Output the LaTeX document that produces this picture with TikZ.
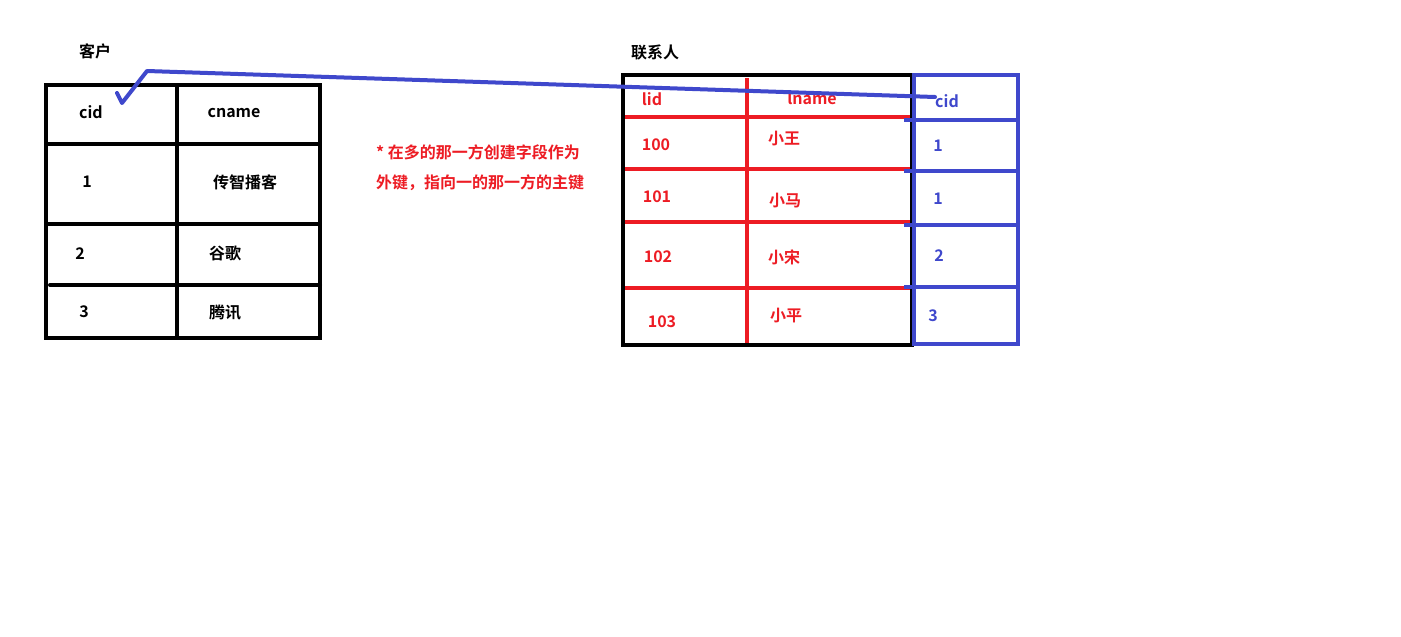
\documentclass[tikz,border=0pt]{standalone}
\usepackage{fontspec}
\setmainfont{Noto Sans CJK SC}[BoldFont={Noto Sans CJK SC Bold}]
\definecolor{pred}{HTML}{ED1C24}
\definecolor{pblue}{HTML}{3F48CC}
\begin{document}
\begin{tikzpicture}[x=1pt,y=-1pt,
  blk/.style={line width=4pt,black},
  redl/.style={line width=3.5pt,pred},
  bluel/.style={line width=4pt,pblue},
  txt/.style={font=\fontsize{16}{19}\selectfont\bfseries,inner sep=0pt},
  rtxt/.style={txt,text=pred},
  btxt/.style={txt,text=pblue},
  note/.style={font=\fontsize{16}{19}\selectfont\bfseries,text=pred,inner sep=0pt,anchor=west}]
\useasboundingbox[fill=white] (0,0) rectangle (1401,637);
% left table
\draw[blk] (46,85) rectangle (320,338);
\draw[blk] (177,85) -- (177,338);
\draw[blk] (46,144) -- (320,144);
\draw[blk] (46,224) -- (320,224);
\draw[blk,line cap=round] (50,285) -- (320,285);
\node[txt] (t1) at (95,51) {客户};
\node[txt] (c1) at (91,112) {cid};
\node[txt] (c2) at (234,113) {cname};
\node[txt] (r11) at (87,182) {1};
\node[txt] (r12) at (245,182) {传智播客};
\node[txt] (r21) at (80,254) {2};
\node[txt] (r22) at (225,253) {谷歌};
\node[txt] (r31) at (84,312) {3};
\node[txt] (r32) at (225,313) {腾讯};
% note
\node[note] (n1) at (376,152) {* 在多的那一方创建字段作为};
\node[note] (n2) at (376,183) {外键，指向一的那一方的主键};
% right table
\node[txt] (t2) at (655,52) {联系人};
\draw[redl] (747,78) -- (747,345);
\foreach \y in {117,169,222,288} \draw[redl] (624,\y) -- (910,\y);
\draw[blk] (623,75) rectangle (912,345);
\draw[bluel] (914,75) rectangle (1018,344);
\foreach \y in {120,171,225,287} \draw[bluel] (904,\y) -- (1018,\y);
\node[rtxt] (h1) at (652,99) {lid};
\node[rtxt] (h2) at (812,98) {lname};
\node[btxt] (h3) at (947,101) {cid};
\node[rtxt] (a1) at (656,145) {100};
\node[rtxt] (b1) at (784,139) {小王};
\node[btxt] (d1) at (938,146) {1};
\node[rtxt] (a2) at (657,197) {101};
\node[rtxt] (b2) at (785,201) {小马};
\node[btxt] (d2) at (938,199) {1};
\node[rtxt] (a3) at (658,257) {102};
\node[rtxt] (b3) at (784,257) {小宋};
\node[btxt] (d3) at (939,256) {2};
\node[rtxt] (a4) at (662,322) {103};
\node[rtxt] (b4) at (786,316) {小平};
\node[btxt] (d4) at (933,316) {3};
% connector
\coordinate (fk) at (935,97);
\coordinate (bend) at (147,71);
\coordinate (tip) at (122,103);
\coordinate (tick) at (117,93);
\draw[bluel,line join=round,line cap=round] (fk) -- (bend) -- (tip) -- (tick);
\end{tikzpicture}
\end{document}
